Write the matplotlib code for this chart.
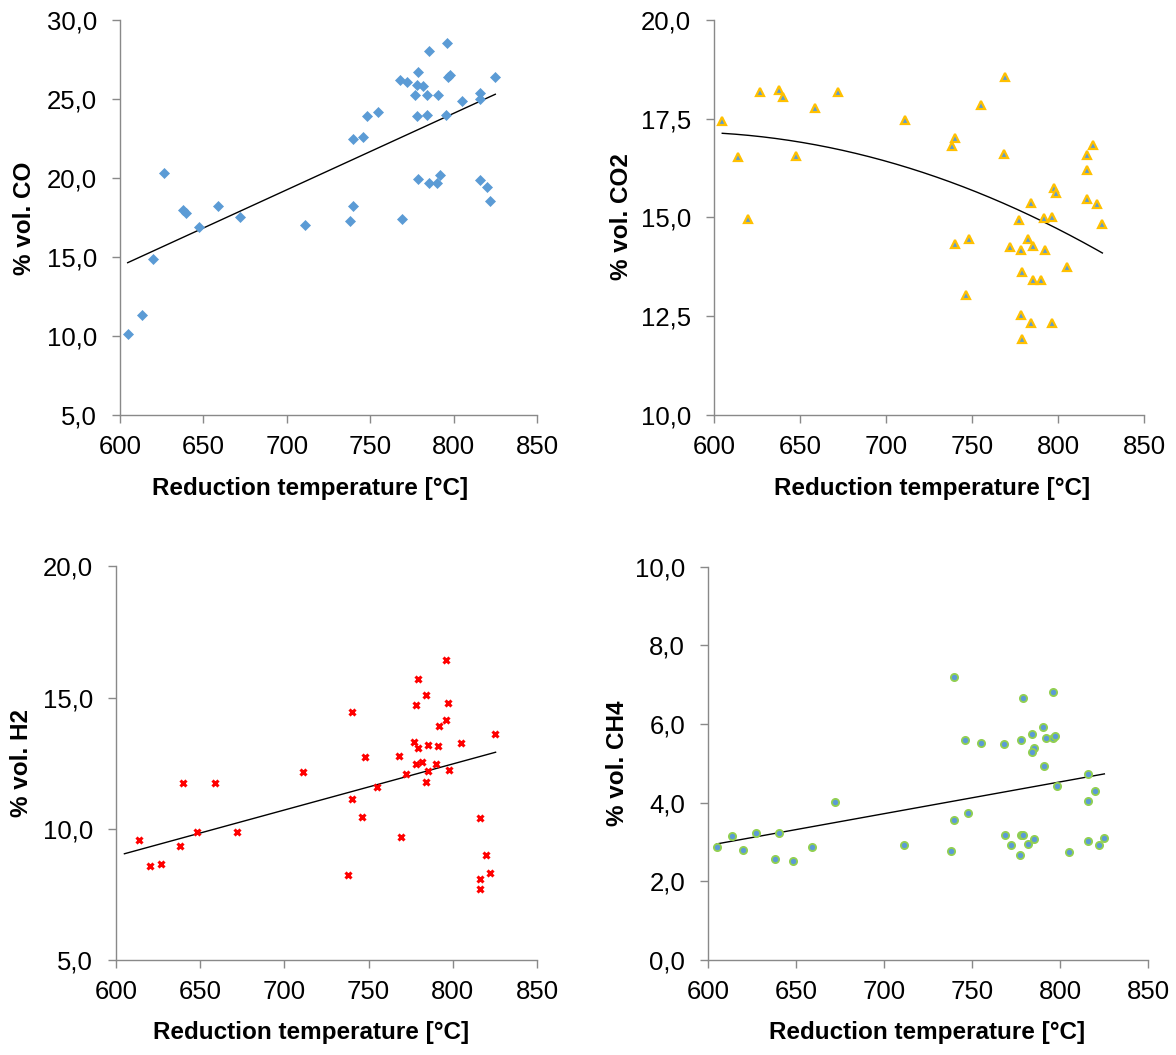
import numpy as np
import matplotlib
matplotlib.use("Agg")
import matplotlib.pyplot as plt
from matplotlib.ticker import FuncFormatter, MultipleLocator

plt.rcParams['font.family'] = ['Liberation Sans', 'DejaVu Sans']

# ---- data ----
t_co = [604.6, 613.4, 619.6, 626.6, 637.6, 639.6, 647.6, 658.6, 671.8, 711.0,
        737.6, 739.8, 739.8, 745.8, 747.8, 754.8, 768.8, 767.8, 772.0, 776.8,
        777.8, 778.8, 777.8, 778.8, 781.8, 784.0, 785.0, 784.0, 785.0, 790.0,
        790.8, 791.8, 795.8, 795.4, 796.8, 798.0, 804.8, 816.0, 815.6, 816.0,
        820.0, 822.0, 825.0]
co = [10.1, 11.3, 14.9, 20.3, 18.0, 17.8, 16.9, 18.25, 17.55, 17.0,
      17.3, 18.2, 22.5, 22.6, 23.9, 24.2, 17.4, 26.2, 26.1, 25.25,
      25.9, 26.7, 23.9, 19.96, 25.85, 25.25, 28.06, 23.97, 19.66, 19.66,
      25.25, 20.2, 28.57, 23.97, 26.4, 26.5, 24.9, 25.4, 25.0, 19.85,
      19.45, 18.57, 26.37]

t_co2 = [604.8, 613.8, 620.0, 627.0, 637.8, 639.9, 647.9, 658.9, 671.9, 711.2,
         738.4, 740.3, 740.3, 748.4, 746.3, 755.4, 768.4, 769.4, 772.3, 777.3,
         778.5, 779.3, 778.5, 779.3, 782.4, 784.3, 785.3, 785.3, 784.3, 790.3,
         791.7, 792.6, 796.7, 796.7, 797.7, 798.6, 805.4, 816.7, 816.7, 816.7,
         820.5, 822.5, 825.8]
co2 = [17.43, 16.53, 14.95, 18.17, 18.23, 18.05, 16.54, 17.77, 18.18, 17.46,
       16.81, 17.01, 14.31, 14.45, 13.04, 17.85, 16.61, 18.56, 14.24, 14.93,
       14.17, 13.61, 12.52, 11.91, 14.45, 15.37, 14.28, 13.42, 12.32, 13.42,
       14.97, 14.18, 15.0, 12.32, 15.75, 15.61, 13.74, 16.57, 16.21, 15.46,
       16.83, 15.33, 14.83]

t_h2 = [613.9, 620.0, 626.9, 637.8, 640.0, 647.9, 659.0, 671.9, 711.0, 737.8,
        740.1, 740.1, 746.1, 748.1, 755.0, 768.1, 769.0, 772.0, 776.8, 778.1,
        779.1, 779.1, 778.1, 781.9, 784.1, 785.1, 785.1, 784.1, 790.2, 791.0,
        792.0, 796.2, 796.2, 797.1, 797.9, 804.9, 815.9, 815.9, 815.9, 819.9,
        821.9, 825.1]
h2 = [9.59, 8.59, 8.66, 9.34, 11.75, 9.89, 11.75, 9.89, 12.15, 8.25,
      14.44, 11.13, 10.47, 12.72, 11.6, 12.77, 9.7, 12.08, 13.32, 14.73,
      15.73, 13.10, 12.48, 12.56, 15.1, 13.18, 12.19, 11.77, 12.49, 13.15,
      13.92, 16.44, 14.13, 14.78, 12.25, 13.28, 10.42, 8.09, 7.71, 9.0,
      8.32, 13.63]

t_ch4 = [604.9, 613.8, 620.1, 627.1, 638.0, 640.1, 648.1, 659.0, 671.9, 711.1,
         738.1, 740.0, 740.0, 746.1, 748.0, 755.2, 768.0, 769.0, 772.0, 777.1,
         778.1, 778.1, 779.0, 779.0, 782.1, 784.1, 785.1, 784.1, 785.1, 790.2,
         791.1, 792.1, 796.2, 796.2, 797.2, 798.1, 804.9, 816.1, 816.1, 816.1,
         820.1, 822.1, 825.2]
ch4 = [2.87, 3.15, 2.80, 3.24, 2.57, 3.22, 2.51, 2.87, 4.01, 2.91,
       2.78, 3.56, 7.18, 5.60, 3.73, 5.51, 5.49, 3.17, 2.92, 2.68,
       5.60, 3.17, 6.67, 3.17, 2.95, 5.74, 5.39, 5.28, 3.08, 5.93,
       4.92, 5.64, 6.80, 5.64, 5.70, 4.41, 2.75, 4.73, 4.03, 3.02,
       4.30, 2.91, 3.11]

# trend lines as drawn in the reference: polynomial coefficients in (T - 700)
trend_co = [0.04837, 19.254]
trend_co2 = [-5.0e-5, -0.0122, 16.42]
trend_h2 = [0.017559, 10.718]
trend_ch4 = [0.00808, 3.718]
trend_span_co = [604.6, 825.0]
trend_span_co2 = [604.8, 825.8]
trend_span_h2 = [605.0, 825.4]
trend_span_ch4 = [604.9, 825.2]

x_ticks = [600, 650, 700, 750, 800, 850]
ylabels = ["% vol. CO", "% vol. CO2", "% vol. H2", "% vol. CH4"]
xlabel = "Reduction temperature [°C]"

W, H = 1176, 1055
fig = plt.figure(figsize=(W / 100, H / 100), dpi=100)

# axes boxes in pixels: left, right, top, bottom
boxes = [(120, 537, 20, 415), (714, 1144, 20, 414.5),
         (116, 537, 566.5, 960), (708, 1148, 566.5, 960)]
# label centres in pixels
xlab_pos = [(310, 488), (932, 488), (311, 1032), (927, 1032)]
ylab_pos = [(25, 218), (622, 217), (22, 763), (617, 763)]

grey = '#898989'
comma = FuncFormatter(lambda v, p: f"{v:.1f}".replace('.', ','))

specs = [
    dict(x=t_co, y=co, ylim=(5, 30), step=5, tr=trend_co, span=trend_span_co,
         mk=dict(marker='D', ms=5.0, mfc='#5B9BD5', mec='#5B9BD5', mew=0.5)),
    dict(x=t_co2, y=co2, ylim=(10, 20), step=2.5, tr=trend_co2, span=trend_span_co2,
         mk=dict(marker='^', ms=6.0, mfc='#5B9BD5', mec='#FFC000', mew=1.6)),
    dict(x=t_h2, y=h2, ylim=(5, 20), step=5, tr=trend_h2, span=trend_span_h2,
         mk=dict(marker='x', ms=4.8, mfc='#FF0000', mec='#FF0000', mew=2.2)),
    dict(x=t_ch4, y=ch4, ylim=(0, 10), step=2, tr=trend_ch4, span=trend_span_ch4,
         mk=dict(marker='o', ms=5.2, mfc='#5B9BD5', mec='#92D050', mew=1.3)),
]

for box, s, yl, xp, yp in zip(boxes, specs, ylabels, xlab_pos, ylab_pos):
    l, r, t, b = box
    ax = fig.add_axes([l / W, 1 - b / H, (r - l) / W, (b - t) / H])
    x = np.array(s['x']); y = np.array(s['y'])
    ax.plot(x, y, linestyle='none', zorder=3, **s['mk'])
    xx = np.linspace(s['span'][0], s['span'][1], 200)
    ax.plot(xx, np.polyval(s['tr'], xx - 700), color='black', lw=1.0, zorder=2)
    ax.set_xlim(600, 850)
    ax.set_ylim(*s['ylim'])
    ax.set_xticks(x_ticks)
    ax.yaxis.set_major_locator(MultipleLocator(s['step']))
    ax.yaxis.set_major_formatter(comma)
    for side in ('top', 'right'):
        ax.spines[side].set_visible(False)
    for side in ('left', 'bottom'):
        ax.spines[side].set_color(grey)
        ax.spines[side].set_linewidth(1.0)
    ax.tick_params(axis='both', direction='out', length=5.5, width=1.0,
                   color=grey, labelsize=18.5, labelcolor='black')
    ax.tick_params(axis='x', pad=9)
    ax.tick_params(axis='y', pad=11)
    ax.set_xlabel(xlabel, fontsize=17.5, fontweight='bold')
    ax.set_ylabel(yl, fontsize=17.5, fontweight='bold')
    ax.xaxis.label.set_va('center')
    ax.yaxis.label.set_va('center')
    ax.xaxis.set_label_coords((xp[0] - l) / (r - l), (b - xp[1]) / (b - t))
    ax.yaxis.set_label_coords((yp[0] - l) / (r - l), (b - yp[1]) / (b - t))

fig.savefig('out.png', dpi=100)
